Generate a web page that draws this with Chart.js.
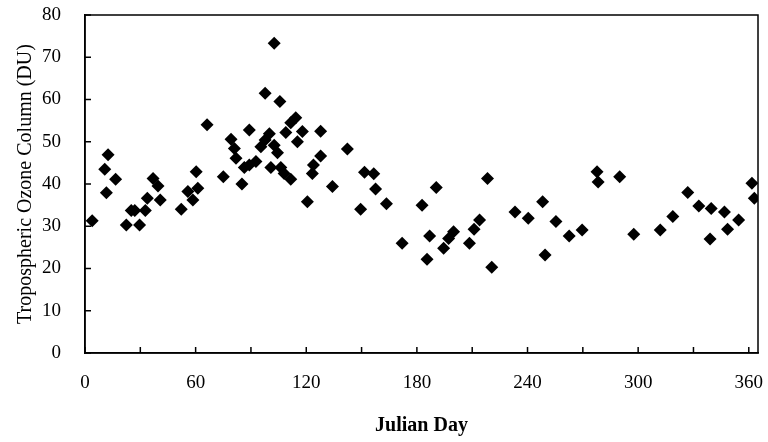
<!DOCTYPE html>
<html>
<head>
<meta charset="utf-8">
<script src="https://cdn.jsdelivr.net/npm/chart.js@4/dist/chart.umd.min.js"></script>
<style>
  html, body { margin: 0; padding: 0; background: #fff; }
  #wrap { width: 768px; height: 442px; }
</style>
</head>
<body>
<div id="wrap"><canvas id="c" width="768" height="442"></canvas></div>
<script>
// Julian day and tropospheric ozone (DU)
const days = [3.9, 10.7, 12.5, 11.6, 16.6, 22.4, 25.1, 27, 29.6, 32.7, 33.8, 36.9, 39.6, 40.8,
  52.2, 55.8, 58.5, 60.3, 61.2, 66.2, 75, 79.2, 81, 81.9, 85.1, 86.4, 89.1, 89.1, 92.7, 95.4,
  97.7, 97.7, 100, 100.8, 102.6, 102.6, 104.4, 105.7, 106.2, 108, 108.9, 111.6, 111.6, 114.3,
  115.2, 117.9, 120.6, 123.3, 123.9, 127.8, 127.8, 134.2, 142.3, 149.5, 151.6, 156.6, 157.6,
  163.5, 172, 182.8, 185.5, 186.9, 190.5, 194.5, 197.2, 199.9, 208.5, 211, 214, 218.3, 220.6,
  233.2, 240.4, 248.2, 249.5, 255.4, 262.6, 269.6, 277.7, 278.3, 290, 297.6, 312, 318.8, 326.9,
  332.9, 339.6, 339, 346.8, 348.5, 354.5, 361.7, 363];
const ozone = [31.3, 43.5, 46.9, 37.9, 41.1, 30.3, 33.7, 33.7, 30.3, 33.7, 36.6, 41.3, 39.5, 36.2,
  34.0, 38.2, 36.2, 42.9, 39.0, 54.0, 41.7, 50.6, 48.4, 46.1, 40.0, 43.9, 44.5, 52.8, 45.3, 48.8,
  50.4, 61.5, 51.9, 43.9, 49.2, 73.3, 47.4, 59.5, 43.9, 42.5, 52.2, 41.1, 54.5, 55.7,
  50.0, 52.4, 35.8, 42.5, 44.5, 46.6, 52.5, 39.4, 48.3, 34.0, 42.8, 42.4, 38.8,
  35.3, 26.0, 35.0, 22.2, 27.7, 39.2, 24.8, 27.1, 28.7, 26.0, 29.3, 31.5, 41.3, 20.3,
  33.4, 31.9, 35.8, 23.2, 31.1, 27.7, 29.1, 42.9, 40.5, 41.7, 28.1, 29.1, 32.3, 38.0,
  34.8, 34.2, 27.0, 33.4, 29.3, 31.5, 40.2, 36.6];

const xTitle = 'Julian Day';
const yTitle = 'Tropospheric Ozone Column (DU)';
const serif = "'Liberation Serif', 'Times New Roman', serif";

// frame around the plot area plus short inward tick marks
const frame = {
  id: 'frame',
  afterDraw(chart) {
    const { ctx, chartArea: a, scales } = chart;
    ctx.save();
    ctx.strokeStyle = '#000';
    ctx.lineWidth = 1.5;
    scales.x.ticks.forEach(t => {
      const px = scales.x.getPixelForValue(t.value);
      ctx.beginPath();
      ctx.moveTo(px, a.bottom); ctx.lineTo(px, a.bottom - 6);
      ctx.stroke();
    });
    scales.y.ticks.forEach(t => {
      const py = scales.y.getPixelForValue(t.value);
      ctx.beginPath();
      ctx.moveTo(a.left, py); ctx.lineTo(a.left + 6, py);
      ctx.stroke();
    });
    ctx.strokeRect(a.left, a.top, a.right - a.left, a.bottom - a.top);
    ctx.restore();
  }
};

new Chart(document.getElementById('c'), {
  type: 'scatter',
  data: {
    datasets: [{
      data: days.map((d, i) => ({ x: d, y: ozone[i] })),
      pointStyle: 'rectRot', pointRadius: 6.5, pointHoverRadius: 6.5,
      backgroundColor: '#000', borderColor: '#000', borderWidth: 0
    }]
  },
  options: {
    responsive: false, animation: false,
    layout: { padding: { top: 15, right: 10, left: 0, bottom: 0 } },
    plugins: { legend: { display: false }, tooltip: { enabled: false } },
    scales: {
      x: {
        type: 'linear', min: 0, max: 365,
        grid: { display: false },
        border: { color: '#000', width: 1.5 },
        ticks: {
          stepSize: 30, includeBounds: false, autoSkip: false, maxRotation: 0, padding: 11,
          color: '#000', font: { family: serif, size: 19 },
          callback: v => v % 60 === 0 ? v : ''
        },
        title: { display: true, text: xTitle, color: '#000', font: { family: serif, size: 20, weight: 'bold' }, padding: { top: 14 } },
        afterFit: s => { s.height = 89; s.paddingLeft = 0; s.paddingRight = 0; }
      },
      y: {
        min: 0, max: 80,
        grid: { display: false },
        border: { color: '#000', width: 1.5 },
        ticks: { stepSize: 10, padding: 16, color: '#000', font: { family: serif, size: 19 } },
        title: { display: true, text: yTitle, color: '#000', font: { family: serif, size: 20 }, padding: { bottom: 0, top: 14 } },
        afterFit: s => { s.width = 85; s.paddingTop = 0; s.paddingBottom = 0; }
      }
    }
  },
  plugins: [frame]
});
</script>
</body>
</html>
